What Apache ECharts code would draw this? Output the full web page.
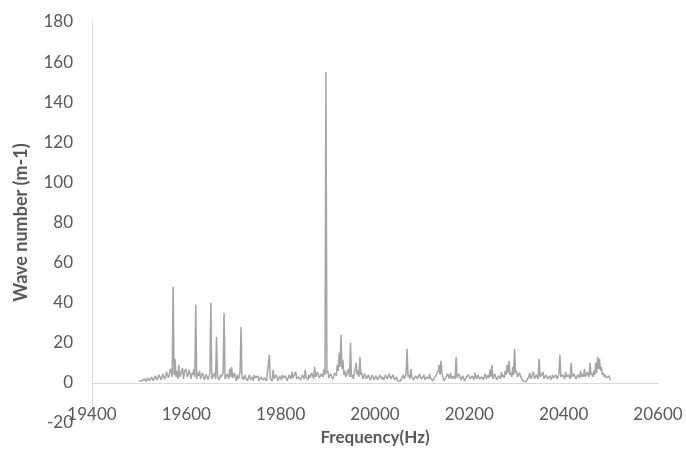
<!DOCTYPE html>
<html>
<head>
<meta charset="utf-8">
<script src="https://cdn.jsdelivr.net/npm/echarts@6/dist/echarts.min.js"></script>
<style>
  html, body { margin: 0; padding: 0; background: #fff; }
  #chart { width: 686px; height: 451px; }
</style>
</head>
<body>
<div id="chart"></div>
<script>
// Spectrum sampled on a regular frequency grid (Hz)
const freqStart = 19500;
const freqStep = 2;

// Wave number (m-1) for each sample, 19500 Hz .. 20500 Hz, one row per 100 Hz
const waveNumber = [
  // 19500 - 19598
  1, 0.5, 1.5, 1, 1, 1.5, 2, 0.5, 1.5, 2.5, 2, 1, 1.5, 3, 2.5, 1, 2, 3.5, 3, 1.5,
  2, 4, 3, 1.5, 2.5, 4.5, 4, 2, 3, 5.5, 5, 2.5, 4, 7, 6, 3, 48, 4, 12, 3,
  6, 2, 9, 3, 4, 6, 7.5, 2, 5, 7,
  // 19600 - 19698
  6, 3, 4, 6.5, 7, 2, 5, 4, 7, 3, 39, 2, 5, 3.5, 6, 2, 3, 5, 4, 1.5,
  2.5, 4.5, 4, 1.5, 3, 5, 40, 2, 3, 4, 5, 2, 23, 3, 3, 1.5, 4, 3, 2.5, 5,
  35, 2, 3, 4.5, 4, 2, 7, 3, 8, 2.5,
  // 19700 - 19798
  3, 5, 2.5, 1, 4, 2, 3, 5.5, 28, 2, 3, 1.5, 4, 2.5, 2, 1, 3, 4, 1.5, 2,
  3, 1, 4, 2.5, 2, 3, 3.5, 1, 1.5, 3, 3, 1.5, 1, 2.5, 2, 1, 0.5, 1.5, 14, 2,
  2, 1, 6.5, 2, 2.5, 4, 3, 1, 2, 3.5,
  // 19800 - 19898
  3.5, 1.5, 4, 2.5, 2, 3.5, 3, 1, 2.5, 4, 4, 2, 5.5, 2.5, 3, 4.5, 5.5, 2, 2, 3,
  3.5, 1.5, 2.5, 4, 4, 2, 6.5, 3, 3, 1.5, 4, 2.5, 2.5, 5, 5, 2, 8, 3, 4, 5.5,
  5, 2.5, 3, 4.5, 5, 3, 7, 4, 155, 5,
  // 19900 - 19998
  6, 2.5, 3, 4.5, 4, 2, 3, 5, 5, 3.5, 9, 6, 15, 8, 24, 7, 11.5, 4, 6, 3,
  4, 6, 7, 3, 20, 3, 4, 2, 5, 7, 10, 4, 6, 3, 13, 4, 5, 2, 3, 4.5,
  5, 2, 3, 4, 4, 1.5, 2.5, 4, 3.5, 1.5,
  // 20000 - 20098
  2, 3.5, 3, 1.5, 2.5, 4, 4, 2, 3, 1.5, 2.5, 4, 4.5, 2, 3, 4.5, 5, 2, 2.5, 4,
  4, 1.5, 2, 3, 1, 0.5, 0.5, 1, 1.5, 3, 4, 2, 3, 5, 17, 3, 4, 2, 7, 3,
  3, 1.5, 2, 3.5, 4, 2, 3, 4.5, 4, 2,
  // 20100 - 20198
  2, 3, 4, 1.5, 1.5, 3, 3.5, 2, 4.5, 2.5, 2, 1, 1, 2.5, 3, 4, 5, 6, 9, 4,
  11, 5, 3, 1, 1.5, 2.5, 3, 4.5, 4, 2, 5, 3, 2, 3.5, 3, 2, 13, 2.5, 3, 4.5,
  4, 1.5, 2, 3.5, 3, 1, 1.5, 3, 3, 4,
  // 20200 - 20298
  4.5, 2, 2, 3.5, 3.5, 1.5, 5, 3, 2, 4, 4, 2, 1.5, 3, 3, 1.5, 3.5, 4.5, 2, 3,
  4, 2.5, 6.5, 3, 9, 2, 3, 4.5, 4, 1.5, 2, 3.5, 3, 2, 5.5, 3, 4, 2.5, 6, 4,
  9, 5, 11, 4, 5, 3, 8, 4, 17, 5,
  // 20300 - 20398
  6, 3, 4, 5, 5.5, 2.5, 2, 1, 0.5, 0.5, 0.5, 0.5, 1, 3, 5, 2, 3, 4.5, 5.5, 2,
  3, 4, 4, 2, 12, 3, 3, 4.5, 5.5, 2, 3, 4, 4.5, 2, 2, 3.5, 3, 1.5, 4, 2.5,
  2, 3, 4, 2, 3, 4.5, 14, 3, 3, 4,
  // 20400 - 20500
  4, 2, 5.5, 3, 2.5, 4, 4, 2, 10, 3, 3, 4.5, 5, 2, 2.5, 4, 4, 2.5, 6, 3,
  4.5, 3, 7, 3, 4, 5.5, 5, 3, 10, 4, 5, 3, 6, 4, 10, 5, 13, 7, 12, 6,
  8, 4, 5, 3, 4, 2.5, 3, 2, 3.5, 2, 1.5
];

const seriesData = waveNumber.map((v, i) => [freqStart + i * freqStep, v]);

const FONT = 'Lato, "Open Sans", sans-serif';
const TEXT = '#595959';

const chart = echarts.init(document.getElementById('chart'), null, { renderer: 'canvas' });
chart.setOption({
  animation: false,
  backgroundColor: '#ffffff',
  grid: { left: 92, right: 28, top: 22, bottom: 28, containLabel: false, outerBoundsMode: 'none' },
  xAxis: {
    type: 'value',
    min: 19400,
    max: 20600,
    interval: 200,
    name: 'Frequency(Hz)',
    nameLocation: 'middle',
    nameGap: 6,
    nameTextStyle: { color: TEXT, fontFamily: FONT, fontSize: 17, fontWeight: 'bold' },
    axisLine: { onZero: true, lineStyle: { color: '#d9d9d9', width: 1 } },
    axisTick: { show: false },
    axisLabel: {
      color: TEXT, fontFamily: FONT, fontSize: 17, margin: -17,
      formatter: (v) => String(v)
    },
    splitLine: { show: false }
  },
  yAxis: {
    type: 'value',
    min: -20,
    max: 180,
    interval: 20,
    name: 'Wave number (m-1)',
    nameLocation: 'middle',
    nameRotate: 90,
    nameGap: 62,
    nameTextStyle: { color: TEXT, fontFamily: FONT, fontSize: 18, fontWeight: 'bold' },
    axisLine: { show: true, lineStyle: { color: '#d9d9d9', width: 1 } },
    axisTick: { show: false },
    axisLabel: { color: TEXT, fontFamily: FONT, fontSize: 17, margin: 19 },
    splitLine: { show: false }
  },
  series: [{
    type: 'line',
    data: seriesData,
    symbol: 'none',
    lineStyle: { color: '#a5a5a5', width: 1.5 },
    z: 3
  }]
});
</script>
</body>
</html>
